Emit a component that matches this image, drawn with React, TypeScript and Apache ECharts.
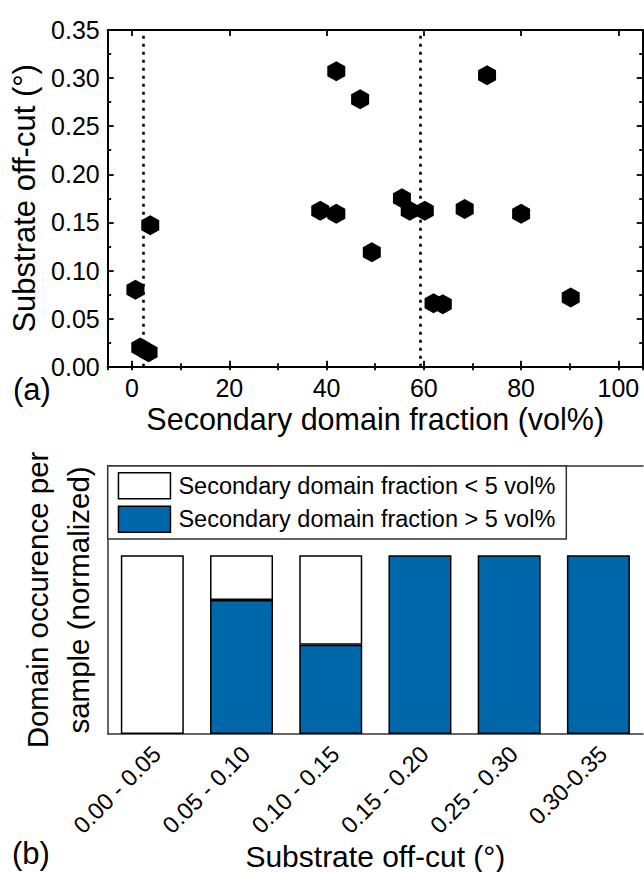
import React, { useEffect, useRef } from 'react';
import * as echarts from 'echarts';

// Panel (a): secondary domain fraction (vol%) vs substrate off-cut (deg)
const domainFraction = [0.7, 1.7, 3.4, 3.75, 38.7, 42.0, 42.0, 46.9, 49.3, 55.5, 57.1, 60.2, 62.0, 63.9, 68.4, 73.0, 80.0, 90.2];
const substrateOffcut = [0.080, 0.020, 0.015, 0.147, 0.162, 0.159, 0.307, 0.278, 0.119, 0.175, 0.162, 0.162, 0.066, 0.065, 0.164, 0.303, 0.159, 0.072];
const thresholdLines = [2.4, 59.3];

// Panel (b): normalized domain occurrence per off-cut bin
const offcutBins = ['0.00 - 0.05', '0.05 - 0.10', '0.10 - 0.15', '0.15 - 0.20', '0.25 - 0.30', '0.30-0.35'];
const fractionBelow5 = [1, 0.25, 0.5, 0, 0, 0];
const fractionAbove5 = [0, 0.75, 0.5, 1, 1, 1];

const FONT = '"Liberation Sans", Arial, sans-serif';
const BLUE = '#0068AA';
const NAME_LOW = 'Secondary domain fraction < 5 vol%';
const NAME_HIGH = 'Secondary domain fraction > 5 vol%';
const HEX = 'path://M50,0 L93.3,25 L93.3,75 L50,100 L6.7,75 L6.7,25 Z';

export default function App() {
  const ref = useRef<HTMLDivElement>(null);
  useEffect(() => {
    if (!ref.current) return;
    const chart = echarts.init(ref.current, null, { renderer: 'svg' });
    const frame = { show: true, onZero: false, lineStyle: { color: '#000', width: 2 } };
    const frameB = { show: true, onZero: false, lineStyle: { color: '#333', width: 1.5 } };
    const majorTick = { show: true, inside: true, length: 6, lineStyle: { color: '#000', width: 1.8 } };
    const minorTickX = { show: true, inside: true, length: 3.5, lineStyle: { color: '#000', width: 1.8 } };
    const xBase = { type: 'value', gridIndex: 0, min: -5, max: 105, splitLine: { show: false } };
    const yBase = { type: 'value', gridIndex: 0, min: 0, max: 0.35, interval: 0.05, splitLine: { show: false } };

    const scatterData = domainFraction.map((x, i) => [x, substrateOffcut[i]]);
    const nz = (arr: number[]) => arr.map((v) => (v === 0 ? null : v));

    chart.setOption({
      animation: false,
      backgroundColor: '#fff',
      textStyle: { fontFamily: FONT },
      grid: [
        { left: 107.7, right: 1.3, top: 30, height: 336.7, show: false },
        { left: 107.7, right: 1, top: 466, height: 268.3, show: false },
      ],
      xAxis: [
        {
          ...xBase, position: 'bottom', splitNumber: 5,
          axisLine: frame, axisTick: majorTick,
          axisLabel: {
            show: true, margin: 9, fontSize: 25, color: '#000', fontFamily: FONT,
            showMinLabel: false, showMaxLabel: false,
            formatter: (v: number) => (Math.abs(v % 20) < 1e-9 ? String(v) : ''),
          },
          name: 'Secondary domain fraction (vol%)', nameLocation: 'middle', nameGap: 37,
          nameTextStyle: { fontSize: 30.5, color: '#000', fontFamily: FONT },
        },
        { ...xBase, position: 'bottom', splitNumber: 11, axisLine: { show: false }, axisTick: minorTickX, axisLabel: { show: false } },
        { ...xBase, position: 'top', splitNumber: 5, axisLine: frame, axisTick: majorTick, axisLabel: { show: false } },
        { ...xBase, position: 'top', splitNumber: 11, axisLine: { show: false }, axisTick: minorTickX, axisLabel: { show: false } },
        {
          type: 'category', gridIndex: 1, position: 'bottom', data: offcutBins,
          axisLine: frameB, axisTick: { show: false },
          axisLabel: {
            rotate: 45, interval: 0, margin: 11.5, fontSize: 23.5, lineHeight: 13,
            verticalAlign: 'top', color: '#000', fontFamily: FONT,
          },
          name: 'Substrate off-cut (°)', nameLocation: 'middle', nameGap: 106,
          nameTextStyle: { fontSize: 30, color: '#000', fontFamily: FONT },
        },
        {
          type: 'category', gridIndex: 1, position: 'top', data: offcutBins,
          axisLine: frameB, axisTick: { show: false }, axisLabel: { show: false },
        },
      ],
      yAxis: [
        {
          ...yBase, position: 'left', axisLine: frame, axisTick: majorTick,
          minorTick: { show: true, splitNumber: 2, length: 3.5, lineStyle: { color: '#000', width: 1.8 } },
          axisLabel: { margin: 8, fontSize: 25, color: '#000', fontFamily: FONT, formatter: (v: number) => v.toFixed(2) },
          name: 'Substrate off-cut (°)', nameLocation: 'middle', nameGap: 64, nameRotate: 90,
          nameTextStyle: { fontSize: 31, color: '#000', fontFamily: FONT },
        },
        {
          ...yBase, position: 'right', axisLine: frame, axisTick: majorTick,
          minorTick: { show: true, splitNumber: 2, length: 3.5, lineStyle: { color: '#000', width: 1.8 } },
          axisLabel: { show: false },
        },
        {
          type: 'value', gridIndex: 1, min: 0, max: 1.5, position: 'left',
          axisLine: frameB, axisTick: { show: false }, axisLabel: { show: false }, splitLine: { show: false },
          name: 'Domain occurence per\nsample (normalized)', nameLocation: 'middle', nameGap: 9, nameRotate: 90,
          nameTextStyle: { fontSize: 29.5, lineHeight: 41, color: '#000', fontFamily: FONT },
        },
      ],
      legend: {
        data: [NAME_LOW, NAME_HIGH],
        orient: 'vertical',
        left: 107.7, top: 466,
        padding: [6, 11, 6, 10],
        itemGap: 6, itemWidth: 52, itemHeight: 26,
        icon: 'rect',
        backgroundColor: '#fff',
        borderColor: '#333', borderWidth: 1.5, borderRadius: 0,
        textStyle: { fontSize: 23.5, lineHeight: 26, color: '#000', fontFamily: FONT, padding: [0, 0, 0, 3] },
        itemStyle: { borderColor: '#000', borderWidth: 1.5 },
      },
      graphic: [
        { type: 'text', left: 13, top: 374, style: { text: '(a)', fontSize: 31, fill: '#000', fontFamily: FONT } },
        { type: 'text', left: 12, top: 838, style: { text: '(b)', fontSize: 31, fill: '#000', fontFamily: FONT } },
      ],
      series: [
        {
          type: 'scatter', xAxisIndex: 0, yAxisIndex: 0,
          data: scatterData, symbol: HEX, symbolSize: [18, 20],
          itemStyle: { color: '#000', opacity: 1 },
          markLine: {
            silent: true, symbol: ['none', 'none'], label: { show: false },
            lineStyle: { color: '#000', width: 2.6, type: [3, 5] },
            data: thresholdLines.map((v) => ({ xAxis: v })),
          },
        },
        {
          type: 'bar', name: NAME_HIGH, xAxisIndex: 4, yAxisIndex: 2, stack: 'occ',
          data: nz(fractionAbove5), barWidth: '70.6%',
          itemStyle: { color: BLUE, borderColor: '#000', borderWidth: 1.5 },
        },
        {
          type: 'bar', name: NAME_LOW, xAxisIndex: 4, yAxisIndex: 2, stack: 'occ',
          data: nz(fractionBelow5), barWidth: '70.6%',
          itemStyle: { color: '#fff', borderColor: '#000', borderWidth: 1.5 },
        },
      ],
    });
    return () => chart.dispose();
  }, []);
  return <div ref={ref} style={{ position: 'absolute', left: 0, top: 0, width: 644, height: 872 }} />;
}
